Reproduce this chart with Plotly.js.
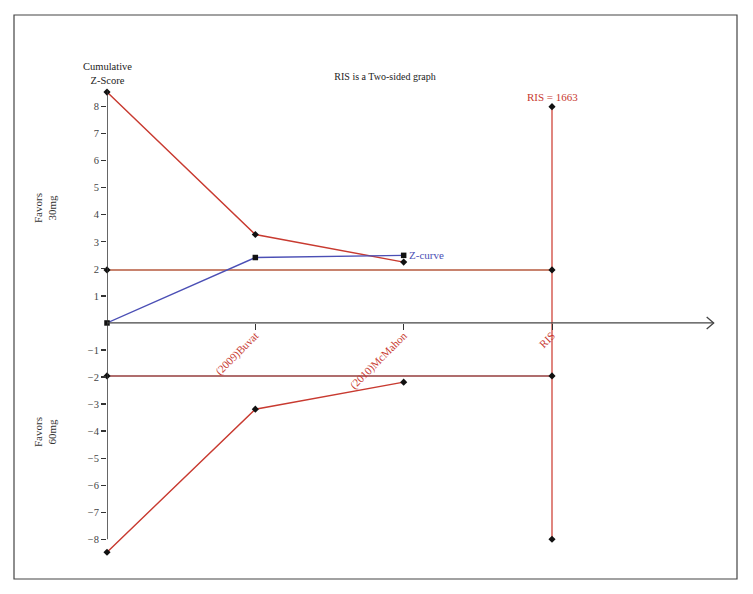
<!DOCTYPE html>
<html>
<head>
<meta charset="utf-8">
<script src="https://cdn.plot.ly/plotly-3.0.1.min.js"></script>
<style>html,body{margin:0;padding:0;background:#fff}#chart{width:753px;height:594px}</style>
</head>
<body>
<div id="chart"></div>
<script>
// ---- data ----
const studies = ['(2009)Buvat', '(2010)McMahon', 'RIS'];
const studyX = [1, 2, 3];
const cumX = [0, 1, 2];
const zCurve = [0, 2.42, 2.50];
const upperBoundary = [8.54, 3.27, 2.25];
const lowerBoundary = [-8.48, -3.19, -2.19];
const convX = [0, 3];
const convUpper = [1.96, 1.96];
const convLower = [-1.96, -1.96];
const risX = [3, 3];
const risY = [8, -8];
const risLabel = 'RIS = 1663';
const yTicks = [-8, -7, -6, -5, -4, -3, -2, -1, 1, 2, 3, 4, 5, 6, 7, 8];

// ---- layout geometry ----
const W = 753, H = 594;
const M = {l: 107, r: 23, t: 88, b: 38};
const xRange = [0, 4.2];
const yRange = [-8.62, 8.69];
const pw = W - M.l - M.r, ph = H - M.t - M.b;
const px2x = p => (p - M.l) / pw;
const px2y = p => (H - M.b - p) / ph;
const zeroPos = (0 - yRange[0]) / (yRange[1] - yRange[0]);

const serif = 'Liberation Serif, Times New Roman, serif';
const red = '#c83a30';
const mk = {symbol: 'diamond', size: 5.5, color: '#111'};

const traces = [
  {x: risX, y: risY, mode: 'lines+markers', line: {color: '#d9675f', width: 1.6}, marker: mk, cliponaxis: false},
  {x: convX, y: convUpper, mode: 'lines+markers', line: {color: '#b65a3e', width: 1.4}, marker: mk, cliponaxis: false},
  {x: convX, y: convLower, mode: 'lines+markers', line: {color: '#943c3c', width: 1.6}, marker: mk, cliponaxis: false},
  {x: cumX, y: upperBoundary, mode: 'lines+markers', line: {color: red, width: 1.4}, marker: mk, cliponaxis: false},
  {x: cumX, y: lowerBoundary, mode: 'lines+markers', line: {color: red, width: 1.4}, marker: mk, cliponaxis: false},
  {x: cumX, y: zCurve, mode: 'lines+markers', line: {color: '#4b4fb5', width: 1.4},
   marker: {symbol: 'square', size: 5.5, color: '#111'}, cliponaxis: false}
];

const layout = {
  width: W, height: H,
  margin: M,
  showlegend: false,
  paper_bgcolor: '#fff', plot_bgcolor: '#fff',
  font: {family: serif, color: '#333', size: 10},
  title: {text: 'RIS is a Two-sided graph', x: 385 / W, xanchor: 'center', y: 1 - 76 / H, yanchor: 'middle',
          font: {family: serif, size: 10, color: '#222'}},
  xaxis: {
    range: xRange, anchor: 'free', position: zeroPos,
    showgrid: false, zeroline: false, showline: false,
    tickvals: studyX, ticktext: studies, tickangle: -45,
    ticks: 'outside', ticklen: 6, tickcolor: '#333', tickwidth: 1,
    ticklabelstandoff: -5,
    tickfont: {family: serif, size: 11, color: red}
  },
  yaxis: {
    range: yRange, showgrid: false, zeroline: false, showline: false,
    tickvals: yTicks, ticks: 'outside', ticklen: 5, tickcolor: '#333', tickwidth: 1.2,
    tickfont: {family: serif, size: 10.5, color: '#444'}
  },
  shapes: [
    {type: 'rect', xref: 'paper', yref: 'paper', x0: px2x(14), x1: px2x(737), y0: px2y(579), y1: px2y(15),
     line: {color: '#444', width: 1.2}},
    {type: 'line', xref: 'x', yref: 'y', x0: 0, x1: 0, y0: -8, y1: 8.6, line: {color: '#333', width: 1.5}},
    {type: 'line', xref: 'x', yref: 'y', x0: 0, x1: 4.09, y0: 0, y1: 0, line: {color: '#444', width: 1.3}},
    {type: 'path', xref: 'x', yref: 'y', xsizemode: 'pixel', ysizemode: 'pixel', xanchor: 4.09, yanchor: 0,
     path: 'M-7,6 L0,0 L-7,-6', line: {color: '#444', width: 1.3}}
  ],
  annotations: [
    {text: 'Cumulative<br>Z-Score', x: 0, y: yRange[1], xref: 'x', yref: 'y', xanchor: 'center', yanchor: 'bottom',
     showarrow: false, font: {family: serif, size: 10.5, color: '#222'}},
    {text: 'Z-curve', x: 2, y: zCurve[2], xref: 'x', yref: 'y', xanchor: 'left', yanchor: 'middle', xshift: 3,
     showarrow: false, font: {family: serif, size: 11, color: '#4b4fb5'}},
    {text: risLabel, x: 3, y: 8, xref: 'x', yref: 'y', xanchor: 'center', yanchor: 'bottom', yshift: 2,
     showarrow: false, font: {family: serif, size: 11, color: red}},
    {text: 'Favors<br>30mg', x: px2x(45), y: px2y(208), xref: 'paper', yref: 'paper', textangle: -90,
     xanchor: 'center', yanchor: 'middle', showarrow: false, font: {family: serif, size: 11, color: '#333'}},
    {text: 'Favors<br>60mg', x: px2x(45), y: px2y(432), xref: 'paper', yref: 'paper', textangle: -90,
     xanchor: 'center', yanchor: 'middle', showarrow: false, font: {family: serif, size: 11, color: '#333'}}
  ]
};

Plotly.newPlot('chart', traces, layout, {displayModeBar: false, staticPlot: true});
</script>
</body>
</html>
